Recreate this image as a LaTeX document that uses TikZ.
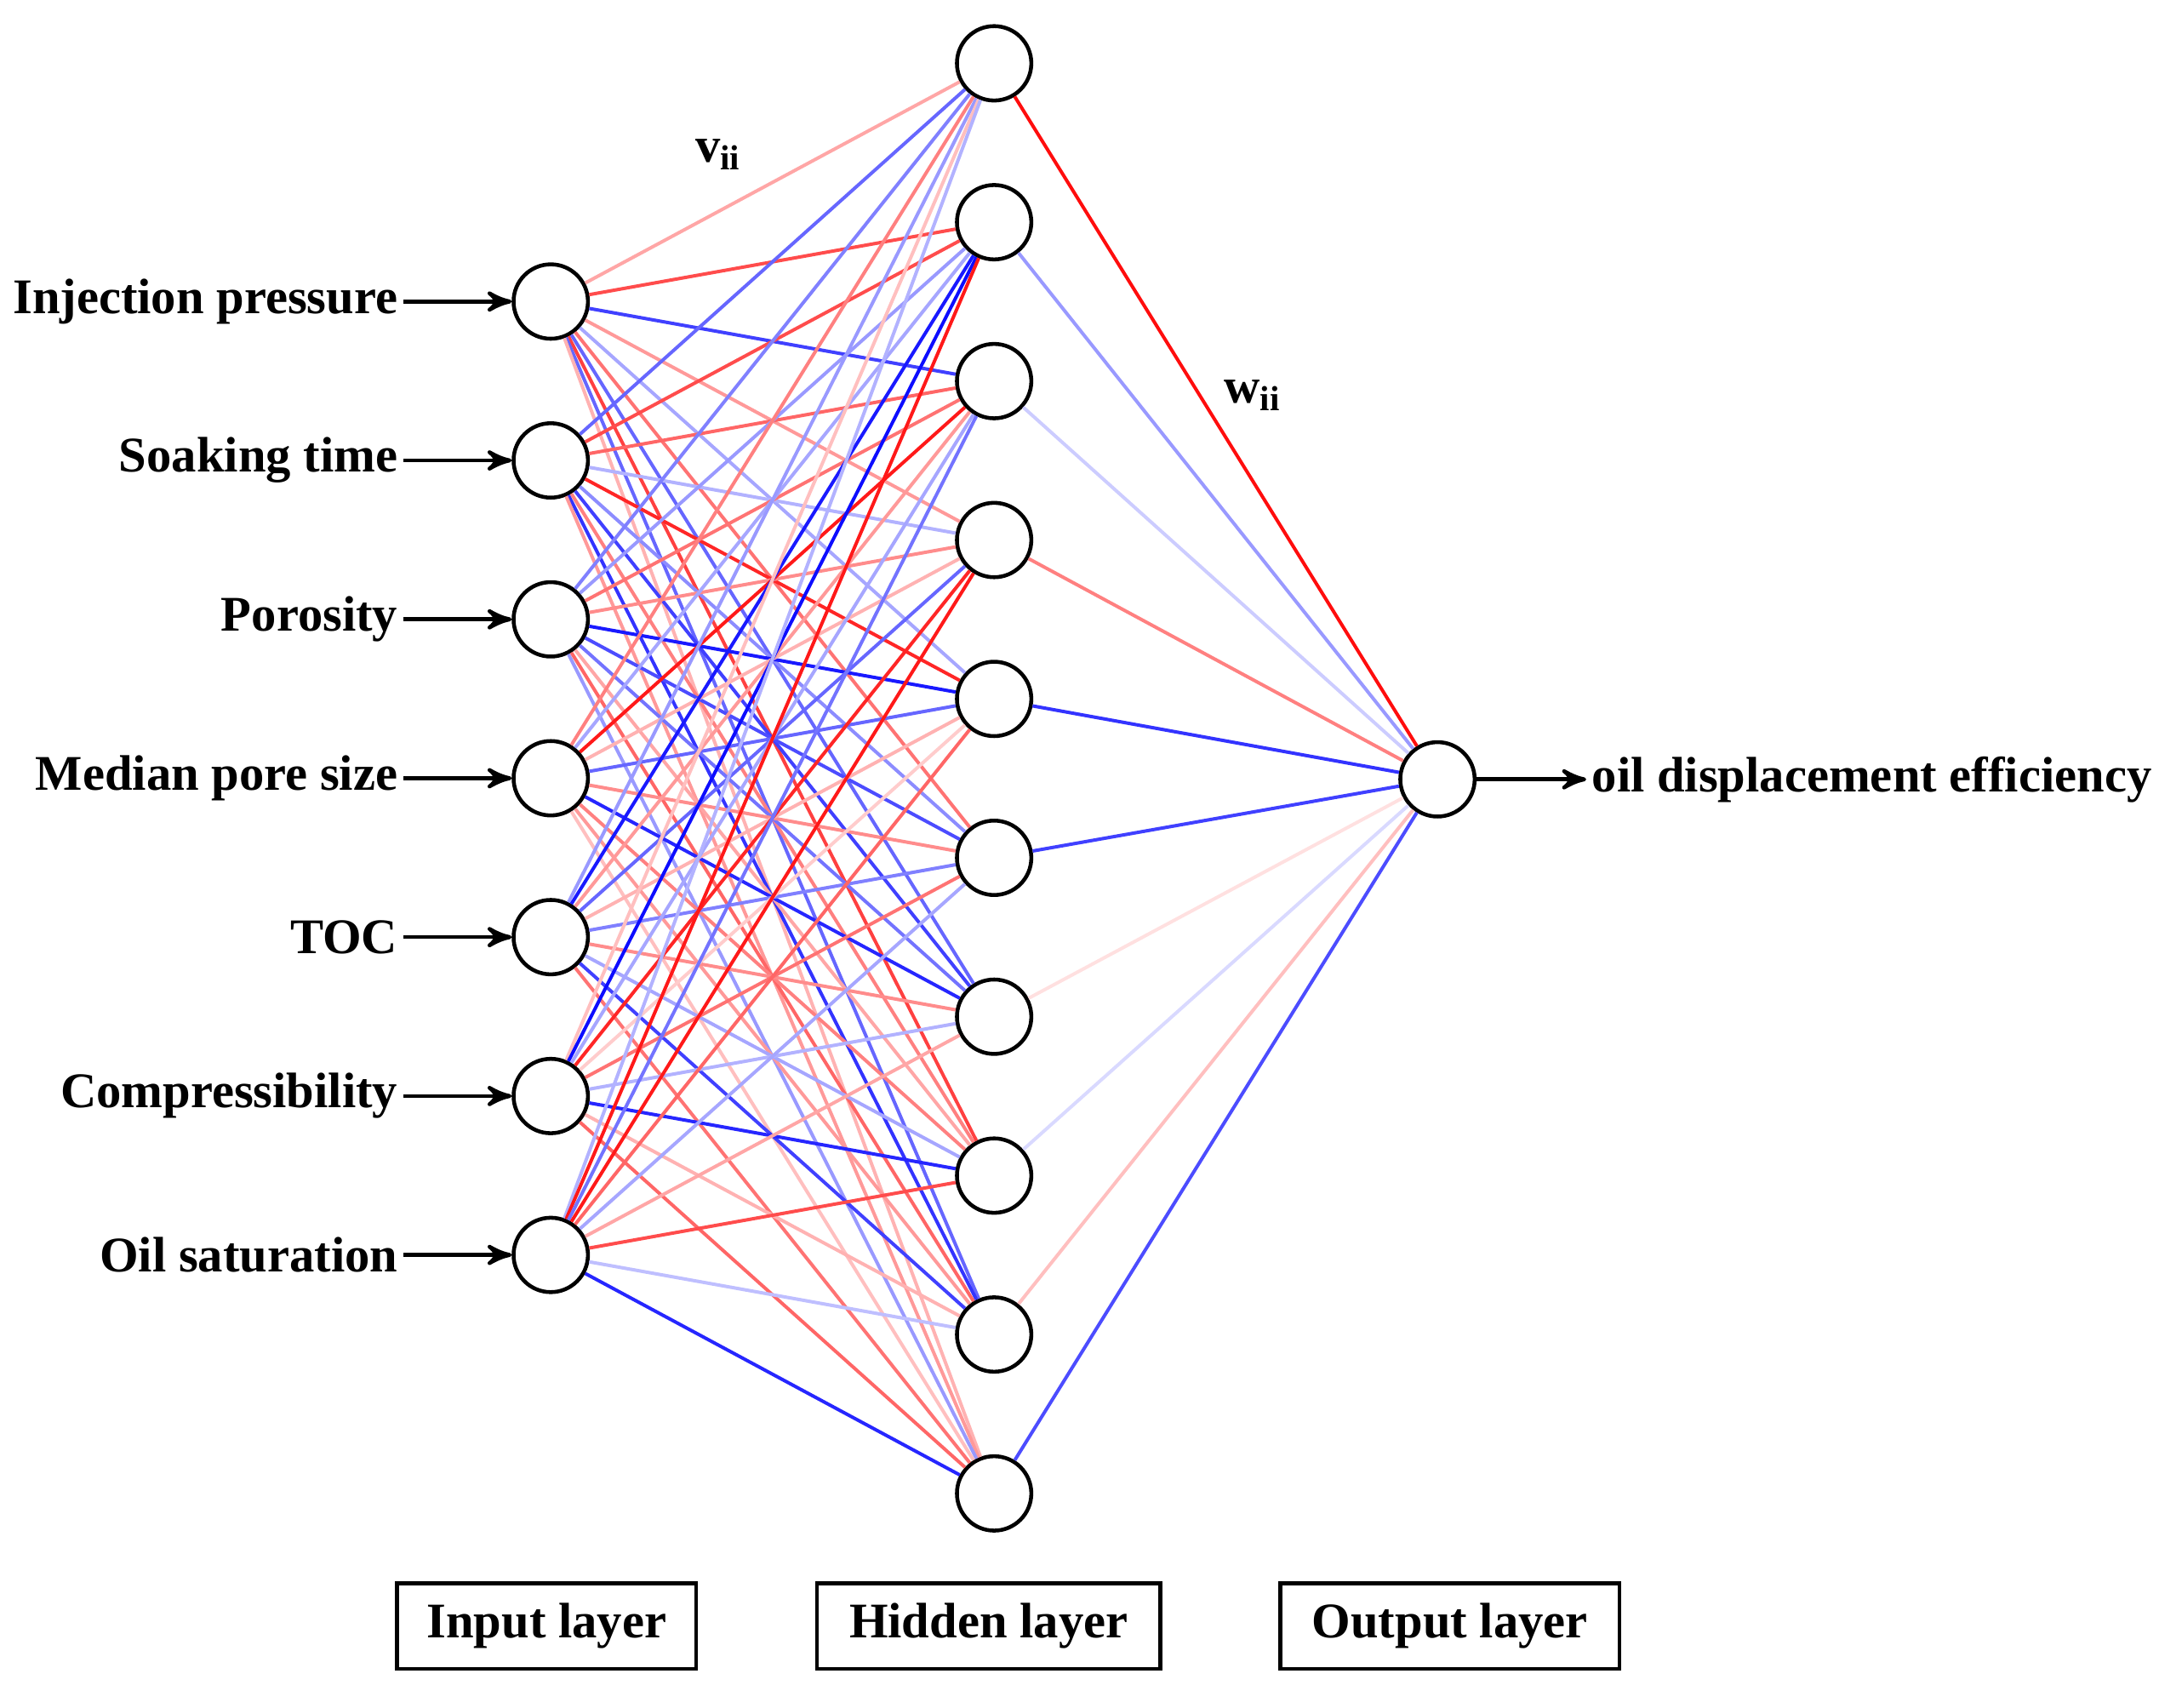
\documentclass[tikz,border=0pt]{standalone}
\usepackage{fontspec}
\setmainfont{Liberation Serif}
\usetikzlibrary{arrows}
\usetikzlibrary{positioning}

\tikzset{
  neuron/.style={draw,circle,thick,fill=white,minimum size=0.54cm,inner sep=0pt},
  feat/.style={font=\fontsize{10.3}{12}\selectfont\bfseries,inner sep=1pt},
  layerbox/.style={draw,thick,minimum height=0.62cm,font=\fontsize{10.3}{12}\selectfont\bfseries},
  feed/.style={thick,->,>=stealth'},
  link/.style={line width=0.7pt}
}

\begin{document}
\begin{tikzpicture}[x=0.01cm,y=-0.01cm]

  \useasboundingbox (0,0) rectangle (1568,1240);

  % input layer
  \foreach \name [count=\i] in {Injection pressure,Soaking time,Porosity,Median pore size,TOC,Compressibility,Oil saturation} {
    \node [neuron] (in_\i) at (400,{219+115.4*(\i-1)}) {};
    \node [feat,anchor=east] (lab_\i) at (293,{219+115.4*(\i-1)}) {\name};
    \draw [feed] (lab_\i) -- (in_\i);
  }

  % hidden layer
  \foreach \j in {1,...,10}
    \node [neuron] (hid_\j) at (722,{46+115.4*(\j-1)}) {};

  % output layer
  \node [neuron] (out) at (1044,566) {};
  \node [feat,anchor=west] (target) at (1152,566) {oil displacement efficiency};
  \draw [feed] (out) -- (target);

  % input -> hidden weights
  \foreach \i/\ws in {
      1/{0.35,0.7,-0.75,0.4,-0.35,0.55,-0.6,0.75,-0.6,0.3},
      2/{-0.6,0.7,0.6,-0.3,0.85,-0.45,-0.75,0.5,-0.8,0.4},
      3/{-0.5,-0.4,0.55,0.45,-0.9,-0.7,-0.55,0.35,0.6,-0.4},
      4/{0.5,-0.35,0.9,0.3,-0.6,0.45,-0.85,0.5,0.4,0.25},
      5/{-0.4,-0.9,0.4,-0.6,0.3,-0.5,0.45,-0.35,-0.75,0.55},
      6/{0.25,-0.95,-0.35,0.85,0.2,0.55,-0.3,-0.85,0.3,0.6},
      7/{-0.3,0.9,-0.55,0.9,0.6,-0.35,0.35,0.7,-0.25,-0.85}} {
    \foreach \w [count=\j] in \ws {
      \pgfmathsetmacro\a{abs(\w)*100}
      \pgfmathparse{\w<0 ? 1 : 0}
      \ifnum\pgfmathresult=1 \colorlet{linkcol}{blue!\a!white}\else\colorlet{linkcol}{red!\a!white}\fi
      \draw [link,linkcol] (in_\i) -- (hid_\j);
    }
  }

  % hidden -> output weights
  \foreach \w [count=\j] in {0.95,-0.4,-0.2,0.5,-0.8,-0.75,0.12,-0.15,0.25,-0.7} {
    \pgfmathsetmacro\a{abs(\w)*100}
    \pgfmathparse{\w<0 ? 1 : 0}
    \ifnum\pgfmathresult=1 \colorlet{linkcol}{blue!\a!white}\else\colorlet{linkcol}{red!\a!white}\fi
    \draw [link,linkcol] (hid_\j) -- (out);
  }

  \node [feat] (v_lab) at (522,112) {v\textsubscript{ii}};
  \node [feat] (w_lab) at (910,287) {w\textsubscript{ii}};

  \node [layerbox,minimum width=2.17cm] (in_box) at (397,1181) {Input layer};
  \node [layerbox,minimum width=2.49cm] (hid_box) at (718,1181) {Hidden layer};
  \node [layerbox,minimum width=2.46cm] (out_box) at (1053,1181) {Output layer};

\end{tikzpicture}
\end{document}
